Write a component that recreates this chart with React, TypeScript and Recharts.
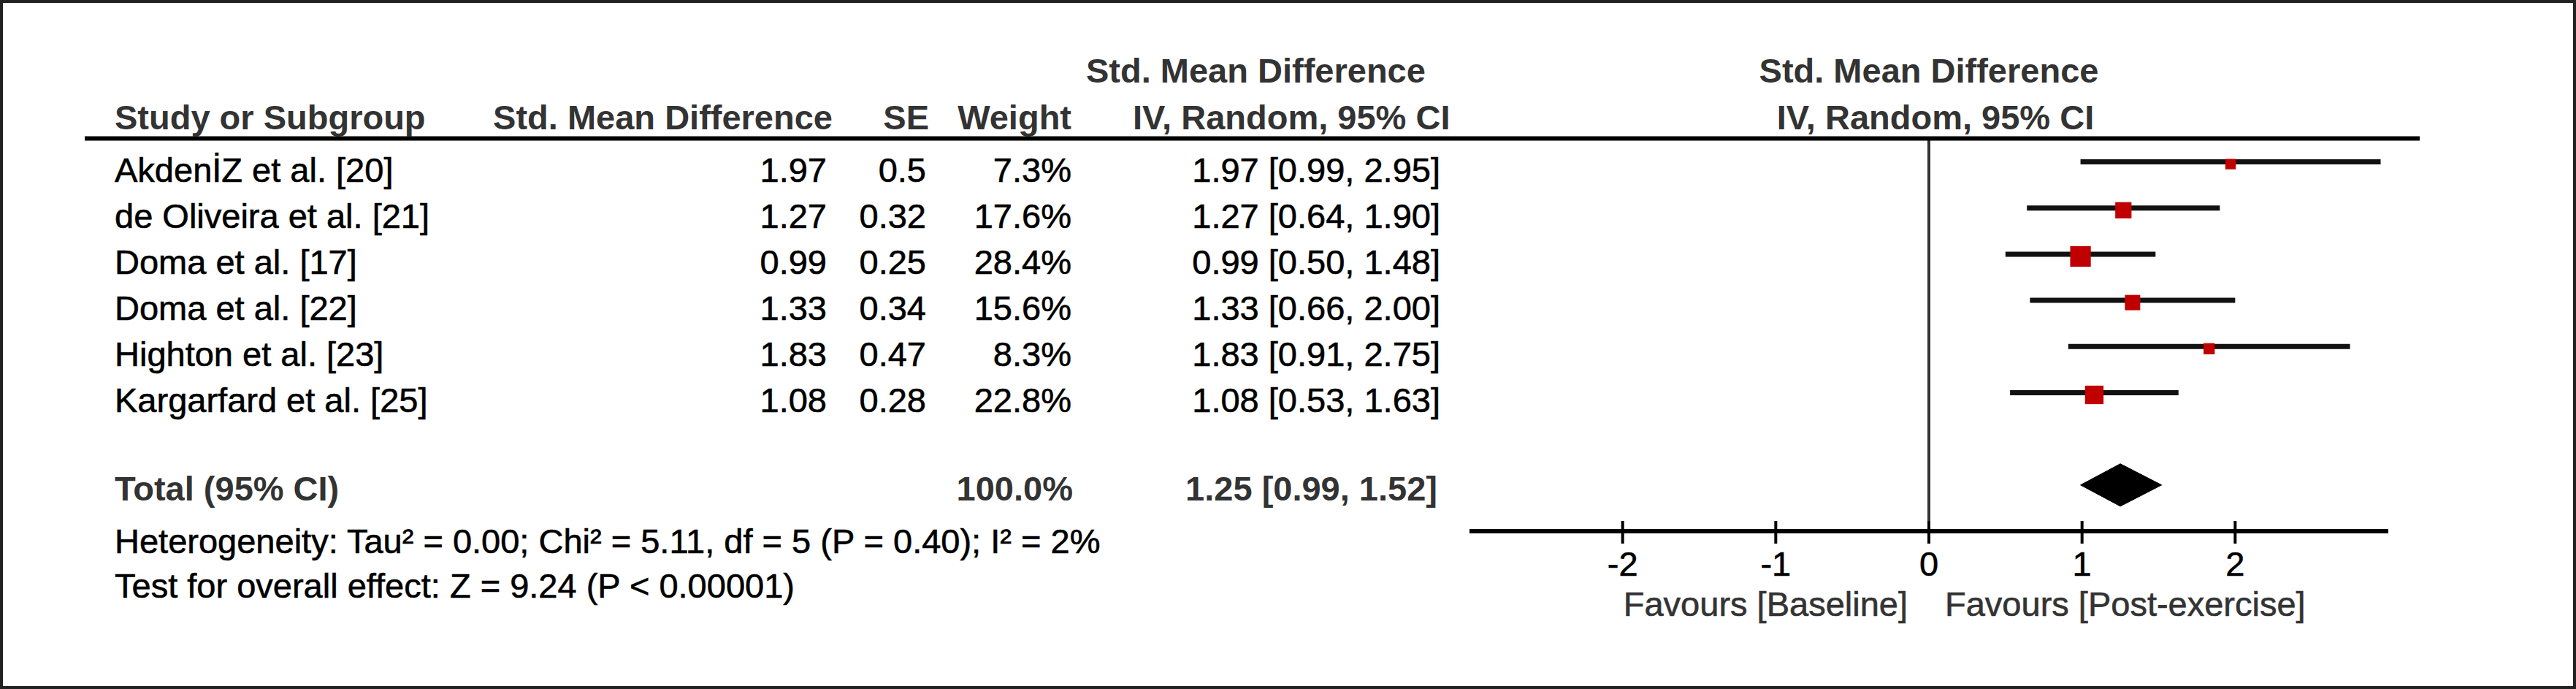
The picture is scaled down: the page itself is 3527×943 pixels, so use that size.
import React from 'react';
import { ComposedChart, Scatter, ErrorBar, Area, XAxis, YAxis, ReferenceLine } from 'recharts';

// forest plot data
const STUDIES = [
  'AkdenİZ et al. [20]',
  'de Oliveira et al. [21]',
  'Doma et al. [17]',
  'Doma et al. [22]',
  'Highton et al. [23]',
  'Kargarfard et al. [25]',
];
const SMD = [1.97, 1.27, 0.99, 1.33, 1.83, 1.08];
const SE = [0.5, 0.32, 0.25, 0.34, 0.47, 0.28];
const WEIGHT = [7.3, 17.6, 28.4, 15.6, 8.3, 22.8];
const CI_LOW = [0.99, 0.64, 0.5, 0.66, 0.91, 0.53];
const CI_HIGH = [2.95, 1.9, 1.48, 2.0, 2.75, 1.63];
const TOTAL = { smd: 1.25, low: 0.99, high: 1.52, weight: 100 };
const TOTAL_ROW = 7;
const X_TICKS = [-2, -1, 0, 1, 2];
const HETEROGENEITY = 'Heterogeneity: Tau² = 0.00; Chi² = 5.11, df = 5 (P = 0.40); I² = 2%';
const OVERALL = 'Test for overall effect: Z = 9.24 (P < 0.00001)';

if (typeof document !== 'undefined') document.body.style.margin = '0';

const W = 3527;
const H = 943;
const PLOT_LEFT = 2012;
const PLOT_RIGHT = 3270;
const PLOT_TOP = 190;
const PLOT_BOTTOM = 727;
const Y_DOMAIN: [number, number] = [-0.5, 8];
const FONT = "'Liberation Sans', Arial, sans-serif";
const FS = 47;

const rowY = (i: number) =>
  PLOT_TOP + ((i - Y_DOMAIN[0]) * (PLOT_BOTTOM - PLOT_TOP)) / (Y_DOMAIN[1] - Y_DOMAIN[0]);

const studyData = STUDIES.map((name, i) => ({
  name,
  x: SMD[i],
  y: i,
  weight: WEIGHT[i],
  err: [SMD[i] - CI_LOW[i], CI_HIGH[i] - SMD[i]],
}));

const DIAMOND_HALF = 0.46;
const diamond = [
  { x: TOTAL.low, range: [TOTAL_ROW, TOTAL_ROW] },
  { x: TOTAL.smd, range: [TOTAL_ROW - DIAMOND_HALF, TOTAL_ROW + DIAMOND_HALF] },
  { x: TOTAL.high, range: [TOTAL_ROW, TOTAL_ROW] },
];

const fmtCI = (m: number, lo: number, hi: number) =>
  `${m.toFixed(2)} [${lo.toFixed(2)}, ${hi.toFixed(2)}]`;

function WeightSquare(props: any) {
  const { cx, cy, payload } = props;
  const s = 5.3 * Math.sqrt(payload.weight);
  return <rect x={cx - s / 2} y={cy - s / 2 + 3} width={s} height={s} fill="#c00000" />;
}

function AxisTick(props: any) {
  const { x, y, payload } = props;
  return (
    <g>
      <line x1={x} x2={x} y1={y - 14} y2={y + 17} stroke="#000" strokeWidth={4} />
      <text
        x={x}
        y={y + 61}
        textAnchor="middle"
        fontSize={FS}
        fontFamily={FONT}
        fill="#000"
        stroke="#000"
        strokeWidth={0.6}
      >
        {payload.value}
      </text>
    </g>
  );
}

export default function App() {
  const head = { fontSize: FS, fontFamily: FONT, fontWeight: 700, fill: '#333' } as const;
  const body = { fontSize: FS, fontFamily: FONT, fill: '#000', stroke: '#000', strokeWidth: 0.6 } as const;

  return (
    <div style={{ position: 'relative', width: W, height: H, background: '#fff' }}>
      <div style={{ position: 'absolute', left: 0, top: 0 }}>
        <ComposedChart
          width={W}
          height={H}
          margin={{ top: PLOT_TOP, right: W - PLOT_RIGHT, bottom: H - PLOT_BOTTOM - 100, left: PLOT_LEFT }}
        >
          <XAxis
            type="number"
            dataKey="x"
            domain={[-3, 3]}
            ticks={X_TICKS}
            allowDataOverflow
            height={100}
            tickSize={0}
            tickMargin={0}
            tickLine={false}
            axisLine={{ stroke: '#000', strokeWidth: 6 }}
            tick={<AxisTick />}
          />
          <YAxis type="number" dataKey="y" domain={Y_DOMAIN} reversed hide width={0} allowDataOverflow />
          <ReferenceLine x={0} stroke="#333" strokeWidth={4} />
          <Scatter data={studyData} shape={<WeightSquare />} isAnimationActive={false}>
            <ErrorBar dataKey="err" direction="x" width={0} strokeWidth={7} stroke="#111" />
          </Scatter>
          <Area
            data={diamond}
            dataKey="range"
            type="linear"
            stroke="#000"
            strokeWidth={1}
            fill="#000"
            fillOpacity={1}
            dot={false}
            activeDot={false}
            isAnimationActive={false}
          />
        </ComposedChart>
      </div>

      <svg
        width={W}
        height={H}
        style={{ position: 'absolute', left: 0, top: 0, pointerEvents: 'none' }}
      >
        <rect x={2} y={2} width={W - 4} height={H - 4} fill="none" stroke="#222" strokeWidth={4} />
        <line x1={116} x2={3313} y1={189.5} y2={189.5} stroke="#000" strokeWidth={6} />

        {/* column headers */}
        <text x={1487} y={113} {...head}>Std. Mean Difference</text>
        <text x={PLOT_LEFT + (PLOT_RIGHT - PLOT_LEFT) / 2} y={113} textAnchor="middle" {...head}>
          Std. Mean Difference
        </text>
        <text x={157} y={177} {...head}>Study or Subgroup</text>
        <text x={1140} y={177} textAnchor="end" {...head}>Std. Mean Difference</text>
        <text x={1272} y={177} textAnchor="end" {...head}>SE</text>
        <text x={1467} y={177} textAnchor="end" {...head}>Weight</text>
        <text x={1551} y={177} {...head}>IV, Random, 95% CI</text>
        <text x={PLOT_LEFT + (PLOT_RIGHT - PLOT_LEFT) / 2 + 9} y={177} textAnchor="middle" {...head}>
          IV, Random, 95% CI
        </text>

        {/* study rows */}
        {STUDIES.map((name, i) => {
          const by = rowY(i) + 27;
          return (
            <g key={name}>
              <text x={157} y={by} {...body}>{name}</text>
              <text x={1132} y={by} textAnchor="end" {...body}>{SMD[i].toFixed(2)}</text>
              <text x={1268} y={by} textAnchor="end" {...body}>{String(SE[i])}</text>
              <text x={1467} y={by} textAnchor="end" {...body}>{WEIGHT[i].toFixed(1)}%</text>
              <text x={1972} y={by} textAnchor="end" {...body}>{fmtCI(SMD[i], CI_LOW[i], CI_HIGH[i])}</text>
            </g>
          );
        })}

        {/* total */}
        <text x={157} y={685} {...head}>Total (95% CI)</text>
        <text x={1469} y={685} textAnchor="end" {...head}>{TOTAL.weight.toFixed(1)}%</text>
        <text x={1968} y={685} textAnchor="end" {...head}>{fmtCI(TOTAL.smd, TOTAL.low, TOTAL.high)}</text>
        <text x={157} y={757} {...body}>{HETEROGENEITY}</text>
        <text x={157} y={818} {...body}>{OVERALL}</text>

        {/* favours labels */}
        <text x={2612} y={843} textAnchor="end" {...body} fill="#333" stroke="#333">Favours [Baseline]</text>
        <text x={2663} y={843} {...body} fill="#333" stroke="#333">Favours [Post-exercise]</text>
      </svg>
    </div>
  );
}
